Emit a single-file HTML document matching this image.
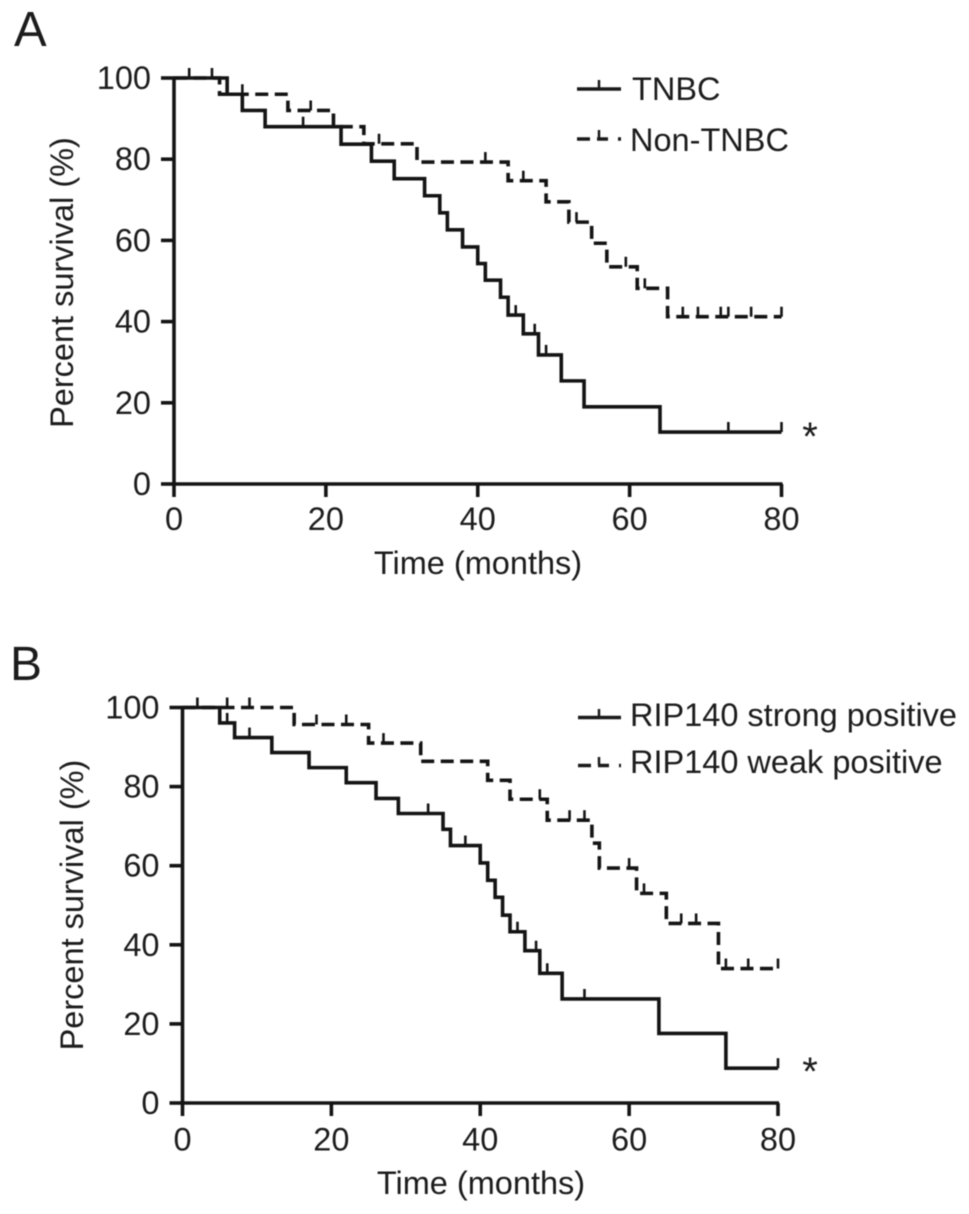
<!DOCTYPE html>
<html lang="en">
<head>
<meta charset="utf-8">
<title>Kaplan-Meier survival curves</title>
<style>
  html, body { margin: 0; padding: 0; background: #fff; }
  body { width: 969px; height: 1214px; overflow: hidden; }
  svg { display: block; filter: blur(0.5px); }
  text { font-family: "Liberation Sans", sans-serif; fill: #1c1c1c; font-size: 32.5px; }
</style>
</head>
<body>
<svg id="figure" xmlns="http://www.w3.org/2000/svg" width="969" height="1214" viewBox="0 0 969 1214">
  <rect x="0" y="0" width="969" height="1214" fill="#fff"/>

  <text x="14" y="46" style="font-size:49px">A</text>
  <text x="10" y="680" style="font-size:48px">B</text>

  <g id="panel-a"></g>
  <g id="panel-b"></g>

  <text transform="translate(73,282.5) rotate(-90)" text-anchor="middle">Percent survival (%)</text>
  <text x="478" y="574" text-anchor="middle">Time (months)</text>
  <text transform="translate(83,905) rotate(-90)" text-anchor="middle">Percent survival (%)</text>
  <text x="481" y="1194" text-anchor="middle">Time (months)</text>

  <g>
    <line x1="577" y1="89" x2="621" y2="89" stroke="#1a1a1a" stroke-width="3.5"/>
    <line x1="599" y1="80" x2="599" y2="89" stroke="#1a1a1a" stroke-width="2.5"/>
    <text x="632" y="100">TNBC</text>
    <line x1="577" y1="139" x2="621" y2="139" stroke="#1a1a1a" stroke-width="3.5" stroke-dasharray="13 7 11 10 3 0"/>
    <line x1="599" y1="130" x2="599" y2="139" stroke="#1a1a1a" stroke-width="2.5"/>
    <text x="630" y="151">Non-TNBC</text>
  </g>

  <g>
    <line x1="578" y1="717.5" x2="621" y2="717.5" stroke="#1a1a1a" stroke-width="3.5"/>
    <line x1="599" y1="709" x2="599" y2="717" stroke="#1a1a1a" stroke-width="2.5"/>
    <text x="630" y="726">RIP140 strong positive</text>
    <line x1="578" y1="765.5" x2="621" y2="765.5" stroke="#1a1a1a" stroke-width="3.5" stroke-dasharray="13 7 11 10 3 0"/>
    <line x1="599" y1="757" x2="599" y2="765" stroke="#1a1a1a" stroke-width="2.5"/>
    <text x="630" y="773">RIP140 weak positive</text>
  </g>

  <text x="810" y="450" text-anchor="middle" style="font-size:40px">*</text>
  <text x="810" y="1085" text-anchor="middle" style="font-size:40px">*</text>
</svg>

<script>
// Shared tick labels
var timeTickLabels = [0, 20, 40, 60, 80];
var survivalTickLabels = [0, 20, 40, 60, 80, 100];

// Panel A: TNBC
var tnbcTimes = [0, 7, 9, 12, 22, 26, 29, 33, 35, 36, 38, 40, 41, 43, 44, 46, 48, 51, 54, 64];
var tnbcSurvival = [100, 96, 92, 88, 83.7, 79.5, 75.2, 71, 66.8, 62.6, 58.4, 54.3, 50.2, 46, 41.6, 37, 31.8, 25.4, 19, 12.8];
var tnbcCensored = [2, 5, 17, 21, 45, 47.5, 49, 73, 80];

// Panel A: Non-TNBC
var nonTnbcTimes = [0, 6, 15, 21, 25, 32, 44, 49, 52, 55, 57, 61, 65];
var nonTnbcSurvival = [100, 96, 92, 88, 83.8, 79.3, 74.7, 69.5, 64.5, 59.3, 53.5, 48.2, 41.2];
var nonTnbcCensored = [9, 18, 27, 41, 46, 53, 59.5, 62, 67, 69, 72, 73, 76, 80];

// Panel B: RIP140 strong positive
var strongTimes = [0, 5, 7, 12, 17, 22, 26, 29, 35, 36, 40, 41, 42, 43, 44, 46, 48, 51, 64, 73];
var strongSurvival = [100, 96.1, 92.4, 88.6, 84.8, 81, 77, 73.2, 69.2, 65.1, 60.7, 56.3, 52, 47.5, 43.3, 38.5, 32.8, 26.3, 17.6, 8.8];
var strongCensored = [2, 5, 6, 9, 33, 38, 45, 47.5, 49, 54, 80];

// Panel B: RIP140 weak positive
var weakTimes = [0, 15, 25, 32, 41, 44, 49, 55, 56, 61, 65, 72];
var weakSurvival = [100, 95.7, 91, 86.4, 81.6, 76.8, 71.5, 65.7, 59.4, 53, 45.4, 34];
var weakCensored = [6, 9, 18, 22, 27, 48, 52, 54, 60, 62, 67, 69, 73, 76, 80];

var SVG_NS = 'http://www.w3.org/2000/svg';
var INK = '#141414';

function makeAxis(d0, d1, r0, r1) {
  return function (v) { return r0 + (v - d0) * (r1 - r0) / (d1 - d0); };
}

function survivalAt(times, values, t) {
  var s = values[0];
  for (var i = 0; i < times.length; i++) {
    if (times[i] <= t) { s = values[i]; }
  }
  return s;
}

function drawSeries(parent, prefix, x, y, times, values, censored, dash) {
  var points = [];
  for (var i = 0; i < times.length; i++) {
    if (i > 0) { points.push(x(times[i]) + ',' + y(values[i - 1])); }
    points.push(x(times[i]) + ',' + y(values[i]));
  }
  points.push(x(timeTickLabels[timeTickLabels.length - 1]) + ',' + y(values[values.length - 1]));
  var line = document.createElementNS(SVG_NS, 'polyline');
  
  
  line.setAttribute('points', points.join(' '));
  line.setAttribute('fill', 'none');
  line.setAttribute('stroke', INK);
  line.setAttribute('stroke-width', '3.6');
  if (dash) { line.setAttribute('stroke-dasharray', dash); }
  parent.appendChild(line);
  censored.forEach(function (t) {
    var py = y(survivalAt(times, values, t));
    var c = document.createElementNS(SVG_NS, 'line');
    
    
    c.setAttribute('x1', x(t));
    c.setAttribute('x2', x(t));
    c.setAttribute('y1', py - 10);
    c.setAttribute('y2', py);
    c.setAttribute('stroke', INK);
    c.setAttribute('stroke-width', '2.6');
    parent.appendChild(c);
  });
}

function drawAxes(parent, prefix, x, y, tickLen, yLabelX, xLabelY) {
  var maxT = timeTickLabels[timeTickLabels.length - 1];
  var maxS = survivalTickLabels[survivalTickLabels.length - 1];
  function seg(name, x1, y1, x2, y2) {
    var l = document.createElementNS(SVG_NS, 'line');
    
    
    l.setAttribute('x1', x1);
    l.setAttribute('y1', y1);
    l.setAttribute('x2', x2);
    l.setAttribute('y2', y2);
    l.setAttribute('stroke', INK);
    l.setAttribute('stroke-width', '3.6');
    parent.appendChild(l);
  }
  function label(name, str, lx, ly, anchor) {
    var t = document.createElementNS(SVG_NS, 'text');
    
    
    t.setAttribute('x', lx);
    t.setAttribute('y', ly);
    t.setAttribute('text-anchor', anchor);
    t.textContent = str;
    parent.appendChild(t);
  }
  seg(prefix + '-y-axis', x(0), y(maxS) - 1.5, x(0), y(0) + 1.5);
  seg(prefix + '-x-axis', x(0) - 1.5, y(0), x(maxT) + 1, y(0));
  survivalTickLabels.forEach(function (v) {
    seg(prefix + '-y-tick', x(0) - tickLen, y(v), x(0), y(v));
    label(prefix + '-y-tick-label', String(v), yLabelX, y(v) + 11, 'end');
  });
  timeTickLabels.forEach(function (v) {
    seg(prefix + '-x-tick', x(v), y(0), x(v), y(0) + tickLen);
    label(prefix + '-x-tick-label', String(v), x(v), xLabelY, 'middle');
  });
}

// Panel A
var panelA = document.getElementById('panel-a');
var xA = makeAxis(0, 80, 174, 781.5);
var yA = makeAxis(0, 100, 484, 78);
drawAxes(panelA, 'panel-a', xA, yA, 13, 151, 530);
drawSeries(panelA, 'non-tnbc', xA, yA, nonTnbcTimes, nonTnbcSurvival, nonTnbcCensored, '13 6.5');
drawSeries(panelA, 'tnbc', xA, yA, tnbcTimes, tnbcSurvival, tnbcCensored, null);

// Panel B
var panelB = document.getElementById('panel-b');
var xB = makeAxis(0, 80, 182.5, 778);
var yB = makeAxis(0, 100, 1103, 707.5);
drawAxes(panelB, 'panel-b', xB, yB, 13, 159.5, 1150.5);
drawSeries(panelB, 'rip140-weak', xB, yB, weakTimes, weakSurvival, weakCensored, '13 6.5');
drawSeries(panelB, 'rip140-strong', xB, yB, strongTimes, strongSurvival, strongCensored, null);
</script>
</body>
</html>
